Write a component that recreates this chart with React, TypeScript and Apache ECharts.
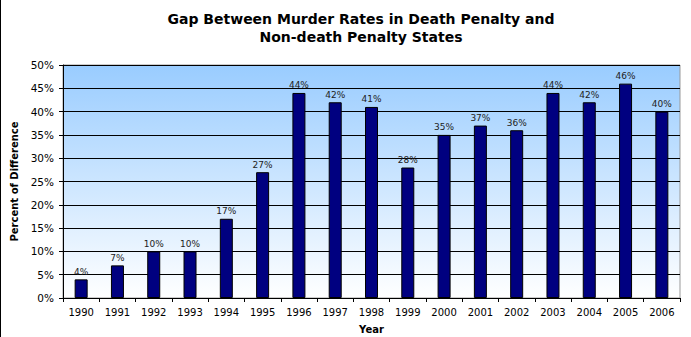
import React, { useEffect, useRef } from "react";
import * as echarts from "echarts";

const years = ["1990","1991","1992","1993","1994","1995","1996","1997","1998","1999","2000","2001","2002","2003","2004","2005","2006"];
const gapValues = [4, 7, 10, 10, 17, 27, 44, 42, 41, 28, 35, 37, 36, 44, 42, 46, 40];
const titleText = "Gap Between Murder Rates in Death Penalty and\nNon-death Penalty States";
const yAxisName = "Percent of Difference";
const xAxisName = "Year";

export default function App() {
  const ref = useRef<HTMLDivElement>(null);
  useEffect(() => {
    document.body.style.margin = "0";
    const chart = echarts.init(ref.current!, null, { renderer: "svg" });
    const font = "Verdana, 'DejaVu Sans', sans-serif";
    chart.setOption({
      animation: false,
      backgroundColor: "#ffffff",
      textStyle: { fontFamily: font },
      title: {
        text: titleText,
        left: 356,
        top: 5,
        textAlign: "center",
        textStyle: { fontSize: 14, fontWeight: "bold", color: "#000", lineHeight: 18, fontFamily: font },
      },
      grid: {
        left: 63,
        right: 11,
        top: 65,
        bottom: 39,
        outerBoundsMode: "none",
        containLabel: false,
        show: true,
        borderColor: "#999",
        borderWidth: 1,
        backgroundColor: new echarts.graphic.LinearGradient(0, 0, 0, 1, [
          { offset: 0, color: "#99CCFF" },
          { offset: 1, color: "#FFFFFF" },
        ]),
      },
      xAxis: {
        type: "category",
        data: years,
        name: xAxisName,
        nameLocation: "middle",
        nameGap: 26,
        nameTextStyle: { fontSize: 10, fontWeight: "bold", color: "#000" },
        axisLine: { lineStyle: { color: "#000", width: 1 } },
        axisTick: { show: true, alignWithLabel: false, length: 4, lineStyle: { color: "#000" } },
        axisLabel: { fontSize: 10, color: "#000", margin: 9 },
      },
      yAxis: {
        type: "value",
        min: 0,
        max: 50,
        interval: 5,
        name: yAxisName,
        nameLocation: "middle",
        nameGap: 44,
        nameRotate: 90,
        nameTextStyle: { fontSize: 10, fontWeight: "bold", color: "#000" },
        axisLine: { show: true, lineStyle: { color: "#000", width: 1 } },
        axisTick: { show: true, length: 4, lineStyle: { color: "#000" } },
        axisLabel: { fontSize: 10.5, color: "#000", margin: 9, formatter: "{value}%" },
        splitLine: { show: true, lineStyle: { color: "#000", width: 1 } },
      },
      series: [
        {
          type: "bar",
          data: gapValues,
          barWidth: 13,
          itemStyle: { color: "#000080", borderColor: "#000", borderWidth: 1 },
          label: {
            show: true,
            position: "top",
            distance: 3,
            formatter: "{c}%",
            fontSize: 9,
            color: "#222",
          },
        },
      ],
      graphic: [
        { type: "line", shape: { x1: 0.5, y1: 0, x2: 0.5, y2: 337 }, style: { stroke: "#000", lineWidth: 1 } },
      ],
    });
    return () => chart.dispose();
  }, []);
  return <div ref={ref} style={{ position: "absolute", left: 0, top: 0, width: 691, height: 337 }} />;
}
